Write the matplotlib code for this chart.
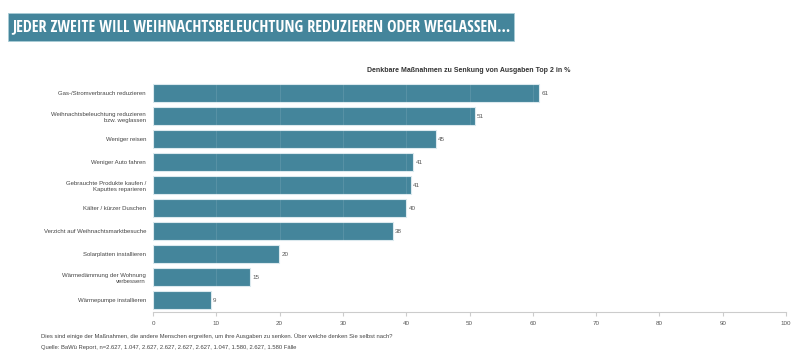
import matplotlib
matplotlib.use('Agg')
import matplotlib.pyplot as plt
from matplotlib.patches import Rectangle
from matplotlib import font_manager

plt.rcParams['font.family'] = ['Liberation Sans', 'DejaVu Sans']

categories = [
    'Gas-/Stromverbrauch reduzieren',
    'Weihnachtsbeleuchtung reduzieren\nbzw. weglassen',
    'Weniger reisen',
    'Weniger Auto fahren',
    'Gebrauchte Produkte kaufen /\nKaputtes reparieren',
    'Kälter / kürzer Duschen',
    'Verzicht auf Weihnachtsmarktbesuche',
    'Solarplatten installieren',
    'Wärmedämmung der Wohnung\nverbessern',
    'Wärmepumpe installieren',
]
values = [61.0, 50.8, 44.7, 41.1, 40.7, 40.0, 37.9, 19.9, 15.4, 9.1]
x_ticks = [0, 10, 20, 30, 40, 50, 60, 70, 80, 90, 100]

banner_title = 'JEDER ZWEITE WILL WEIHNACHTSBELEUCHTUNG REDUZIEREN ODER WEGLASSEN...'
chart_title = 'Denkbare Maßnahmen zu Senkung von Ausgaben Top 2 in %'
note = ('Dies sind einige der Maßnahmen, die andere Menschen ergreifen, um ihre Ausgaben zu senken. '
        'Über welche denken Sie selbst nach?')
source = ('Quelle: BaWü Report, n=2.627, 1.047, 2.627, 2.627, 2.627, 2.627, 1.047, 1.580, 2.627, 1.580 Fälle')

bar_color = '#44859b'
text_color = '#444444'

fig = plt.figure(figsize=(8, 3.61), dpi=100)
renderer = fig.canvas.get_renderer()

# title banner
fig.patches.append(Rectangle((8 / 800, 1 - 41 / 361), (514 - 8) / 800, 28 / 361,
                             transform=fig.transFigure, facecolor=bar_color,
                             edgecolor='#a9ccd6', linewidth=0.6))

# pick the narrowest bold sans available and fit the banner width
names = {f.name for f in font_manager.fontManager.ttflist}
candidates = [n for n in ['Liberation Sans Narrow', 'Roboto Condensed', 'Open Sans Condensed',
                          'DejaVu Sans Condensed', 'Liberation Sans'] if n in names]
target_w = 497
best = None
for fam in candidates:
    t = fig.text(0, 0, banner_title, fontsize=10, fontweight='bold', family=fam)
    w = t.get_window_extent(renderer).width
    t.remove()
    size = 10 * target_w / w
    if best is None or size > best[1]:
        best = (fam, size)
fam, size = best
size = min(size, 13)
fig.text(12 / 800, 1 - 27.5 / 361, banner_title, color='white', fontsize=size,
         fontweight='bold', va='center', ha='left', family=fam)

ax = fig.add_axes([153 / 800, 1 - 311.5 / 361, (786 - 153) / 800, (311.5 - 81.8) / 361])
y = list(range(len(categories)))
ax.barh(y, values, height=0.8, color=bar_color, edgecolor='#dbe9ee', linewidth=0.8, zorder=2)
for yi, v in zip(y, values):
    ax.text(v + 0.35, yi, f'{round(v):d}', va='center', ha='left', fontsize=4.5, color='#555555')

# faint grid, only visible over bars
for t in x_ticks[1:-1]:
    ax.axvline(t, color='white', alpha=0.1, linewidth=0.8, zorder=3)

ax.set_xlim(0, 100)
ax.set_ylim(len(categories) - 0.5, -0.5)
ax.set_xticks(x_ticks)
ax.set_xticklabels([str(t) for t in x_ticks], fontsize=4.5, color='#555555')
ax.set_yticks(y)
ax.set_yticklabels(categories, fontsize=4.3, color=text_color, linespacing=1.35)
ax.tick_params(axis='y', length=0, pad=5)
ax.tick_params(axis='x', length=3, color='#cccccc', pad=4)
for s in ['top', 'right', 'left']:
    ax.spines[s].set_visible(False)
ax.spines['bottom'].set_color('#cccccc')
ax.spines['bottom'].set_linewidth(0.8)

fig.text(469 / 800, 1 - 70 / 361, chart_title, fontsize=5.0, fontweight='bold',
         color='#333333', ha='center', va='center')
fig.text(41 / 800, 1 - 336 / 361, note, fontsize=4.2, color=text_color, ha='left', va='center')
fig.text(41 / 800, 1 - 347.5 / 361, source, fontsize=4.2, color=text_color, ha='left', va='center')

fig.savefig('out.png', dpi=100)
